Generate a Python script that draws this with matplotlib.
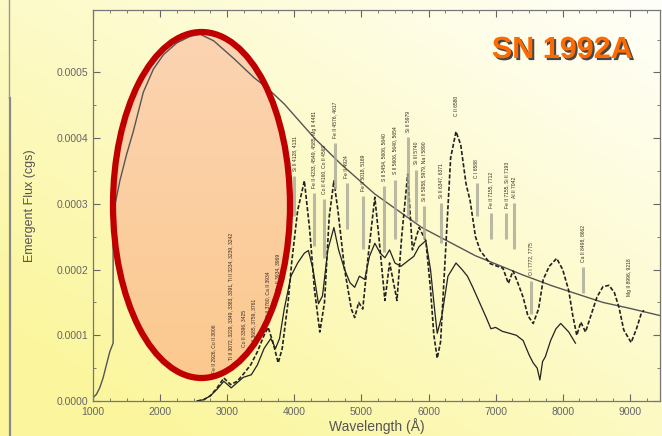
import numpy as np
import matplotlib
matplotlib.use("Agg")
import matplotlib.pyplot as plt
from matplotlib.patches import Ellipse
from matplotlib.ticker import MultipleLocator
import matplotlib.patheffects as pe

plt.rcParams['font.family'] = ['Liberation Sans', 'DejaVu Sans']

# curva suave (corpo negro)
bb_wave = [1000, 1050, 1100, 1150, 1200, 1250, 1300, 1300, 1400, 1500, 1600, 1750, 1900,
           2050, 2250, 2450, 2600, 2800, 3100, 3400, 3600, 3850, 4300, 4700, 5200, 5900,
           6700, 7400, 7850, 8600, 9000, 9450]
bb_flux = [0.000005, 0.000010, 0.000020, 0.000035, 0.000055, 0.000075, 0.000088, 0.000285,
           0.000335, 0.000375, 0.000410, 0.000470, 0.000505, 0.000527, 0.000545, 0.000555,
           0.000558, 0.000548, 0.000521, 0.000492, 0.000476, 0.000452, 0.000400, 0.000360,
           0.000315, 0.000264, 0.000221, 0.000192, 0.000175, 0.000150, 0.000141, 0.000130]

# espectro tracejado
a_wave = [2550, 2650, 2750, 2850, 2950, 3050, 3150, 3250, 3350, 3450, 3550, 3610, 3680, 3760,
          3820, 3910, 3960, 4050, 4150, 4230, 4300, 4380, 4450, 4520, 4590, 4650, 4750, 4850,
          4900, 4960, 5020, 5100, 5200, 5260, 5350, 5420, 5460, 5530, 5600, 5690, 5760, 5860,
          5960, 6030, 6080, 6130, 6180, 6250, 6330, 6410, 6480, 6560, 6620, 6700, 6770, 6920,
          7110, 7190, 7260, 7330, 7410, 7480, 7560, 7640, 7710, 7800, 7910, 8000, 8090, 8150,
          8210, 8270, 8340, 8420, 8510, 8600, 8690, 8770, 8840, 8910, 9020, 9100, 9170, 9210]
a_flux = [0.0, 0.000002, 0.000008, 0.000020, 0.000035, 0.000025, 0.000030, 0.000042, 0.000055,
          0.000075, 0.000100, 0.000112, 0.000090, 0.000058, 0.000080, 0.000153, 0.000210,
          0.000290, 0.000335, 0.000260, 0.000170, 0.000105, 0.000150, 0.000280, 0.000335,
          0.000290, 0.000200, 0.000140, 0.000127, 0.000150, 0.000140, 0.000220, 0.000310,
          0.000250, 0.000153, 0.000210, 0.000190, 0.000153, 0.000250, 0.000345, 0.000230,
          0.000264, 0.000244, 0.000170, 0.000100, 0.000065, 0.000090, 0.000220, 0.000370,
          0.000410, 0.000390, 0.000330, 0.000305, 0.000250, 0.000229, 0.000209, 0.000202,
          0.000179, 0.000198, 0.000180, 0.000158, 0.000130, 0.000118, 0.000140, 0.000185,
          0.000205, 0.000217, 0.000200, 0.000168, 0.000130, 0.000100, 0.000120, 0.000105,
          0.000130, 0.000158, 0.000174, 0.000176, 0.000165, 0.000142, 0.000108, 0.000089,
          0.000110, 0.000133, 0.000138]

# espectro continuo
b_wave = [2550, 2650, 2750, 2850, 2950, 3060, 3150, 3240, 3360, 3450, 3550, 3650, 3720, 3780,
          3850, 3950, 4050, 4150, 4210, 4280, 4360, 4420, 4500, 4590, 4660, 4750, 4830, 4900,
          4970, 5050, 5120, 5200, 5280, 5350, 5420, 5500, 5590, 5690, 5780, 5860, 5960, 6030,
          6090, 6130, 6200, 6290, 6410, 6500, 6580, 6660, 6760, 6860, 6930, 7000, 7100, 7210,
          7310, 7410, 7500, 7560, 7620, 7660, 7700, 7740, 7820, 7900, 7970, 8090, 8190]
b_flux = [0.0, 0.000002, 0.000008, 0.000018, 0.000030, 0.000020, 0.000028, 0.000036, 0.000040,
          0.000055, 0.000080, 0.000095, 0.000080, 0.000095, 0.000140, 0.000190, 0.000210,
          0.000225, 0.000229, 0.000200, 0.000148, 0.000160, 0.000230, 0.000264, 0.000230,
          0.000200, 0.000180, 0.000173, 0.000190, 0.000185, 0.000220, 0.000240, 0.000225,
          0.000218, 0.000230, 0.000210, 0.000205, 0.000213, 0.000220, 0.000235, 0.000244,
          0.000200, 0.000140, 0.000103, 0.000130, 0.000190, 0.000210, 0.000200, 0.000190,
          0.000173, 0.000150, 0.000127, 0.000110, 0.000112, 0.000106, 0.000103, 0.000100,
          0.000092, 0.000070, 0.000058, 0.000050, 0.000032, 0.000060, 0.000067, 0.000092,
          0.000110, 0.000118, 0.000105, 0.000088]

# identificacao das linhas
lab_wave = [2800, 3060, 3240, 3400, 3600, 3760, 4000, 4300, 4440, 4600, 4780, 5020, 5330,
            5500, 5700, 5820, 5930, 6180, 6420, 6720, 6930, 7160, 7280, 7530, 8300, 9000]
lab_flux = [0.000042, 0.000062, 0.000082, 0.000082, 0.000127, 0.000168, 0.000350, 0.000324,
            0.000315, 0.000400, 0.000340, 0.000320, 0.000335, 0.000345, 0.000410, 0.000360,
            0.000305, 0.000309, 0.000433, 0.000340, 0.000294, 0.000294, 0.000309, 0.000191,
            0.000212, 0.000160]
lab_bar = [0.0, 0.0, 0.0, 0.0, 0.0, 0.0, 0.00006, 0.00008, 0.00009, 0.00007, 0.00007,
           0.00008, 0.00010, 0.00009, 0.00012, 0.00008, 0.00005, 0.00006, 0.0, 0.00005,
           0.00004, 0.00004, 0.00007, 0.00005, 0.00004, 0.0]
lab_text = ["Fe II 2926, Co II 3006",
            "Ti II 3072, 3229, 3349, 3383, 3391, Ti II 3234, 3239, 3242",
            "Co II 3396, 3425",
            "Ti II 3685, 3759, 3761",
            "Ti II 3760, Ca II 3934",
            "Ca II 3934, 3969",
            "Si II 4128, 4131",
            "Fe II 4233, 4549, 4585, Mg II 4481",
            "Co II 4160, Co II 4569",
            "Fe II 4576, 4617",
            "Fe II 4924",
            "Fe II 5018, 5169",
            "S II 5454, 5606, 5640",
            "S II 5606, 5640, 5654",
            "Si II 5979",
            "Si III 5740",
            "Si II 5958, 5979, Na I 5890",
            "Si II 6347, 6371",
            "C II 6580",
            "C I 6588",
            "Fe II 7155, 7712",
            "Fe II 7155, Si II 7193",
            "Al II 7042",
            "O I 7772, 7775",
            "Ca II 8498, 8662",
            "Mg II 8996, 9218"]

W, H = 662, 436
fig = plt.figure(figsize=(W / 100, H / 100), dpi=100)

# fundo em degrade
bg = fig.add_axes([0, 0, 1, 1], zorder=0)
xx, yy = np.meshgrid(np.linspace(0, 1, 200), np.linspace(0, 1, 200))
t = np.clip((1 - xx) * 0.55 + yy * 0.6, 0, 1)
c0 = np.array([1.0, 1.0, 0.98])
c1 = np.array([0.985, 0.965, 0.62])
grad = c0 + (c1 - c0) * t[..., None]
bg.imshow(grad, extent=[0, W, H, 0], aspect='auto', origin='upper')
bg.set_xlim(0, W)
bg.set_ylim(H, 0)
bg.axis('off')

# preenchimento da elipse (por baixo do grafico)
fill = Ellipse((201.5, 205), 177, 346, facecolor='none', edgecolor='none')
bg.add_patch(fill)
gy = np.linspace(0, 1, 100)[:, None, None]
top_c = np.array([0.985, 0.83, 0.70])
bot_c = np.array([0.985, 0.79, 0.56])
egrad = np.repeat(top_c + (bot_c - top_c) * gy, 2, axis=1)
im = bg.imshow(egrad, extent=[110, 293, 380, 30], aspect='auto', zorder=2)
im.set_clip_path(fill)
bg.set_xlim(0, W)
bg.set_ylim(H, 0)

ax = fig.add_axes([93 / W, 1 - 401 / H, 567 / W, 391 / H], zorder=1)
ax.patch.set_alpha(0)

ax.plot(bb_wave, bb_flux, color='#555555', lw=1.0)
ax.plot(a_wave, a_flux, color='#222222', lw=1.2, ls=(0, (2.5, 1.2)))
ax.plot(b_wave, b_flux, color='#222222', lw=0.9)

for w, f, b, s in zip(lab_wave, lab_flux, lab_bar, lab_text):
    ax.text(w, f, s, rotation=90, ha='center', va='bottom', fontsize=3.6, color='#3a2a20')
    if b > 0:
        ax.plot([w, w], [f - 0.000008, f - 0.000008 - b], color='#a8a898', lw=2.2,
                alpha=0.8, solid_capstyle='butt')

ax.set_xlim(1000, 9450)
ax.set_ylim(0, 0.000595)
ax.xaxis.set_major_locator(MultipleLocator(1000))
ax.xaxis.set_minor_locator(MultipleLocator(250))
ax.yaxis.set_major_locator(MultipleLocator(0.0001))
ax.yaxis.set_minor_locator(MultipleLocator(0.00005))
ax.yaxis.set_major_formatter(matplotlib.ticker.FormatStrFormatter('%.4f'))
ax.tick_params(which='both', direction='in', top=True, right=True, colors='#666666',
               labelcolor='#666666', labelsize=7.5)
ax.tick_params(which='major', length=5, width=0.8)
ax.tick_params(which='minor', length=2.5, width=0.6)
ax.tick_params(axis='x', pad=4)
for sp in ax.spines.values():
    sp.set_color('#777777')
    sp.set_linewidth(0.9)
ax.set_xlabel('Wavelength (Å)', fontsize=10, color='#555555', labelpad=1)
ax.set_ylabel('Emergent Flux (cgs)', fontsize=9, color='#555555', labelpad=15)

# camada de cima: contorno da elipse, titulo e borda
ov = fig.add_axes([0, 0, 1, 1], zorder=3)
ov.patch.set_alpha(0)
ov.set_xlim(0, W)
ov.set_ylim(H, 0)
ov.axis('off')

ell = Ellipse((201.5, 205), 177, 346, facecolor='none', edgecolor='#c00000', lw=4.5, zorder=5)
ov.add_patch(ell)

ov.plot([8.5, 8.5], [0, 98], color='#999999', lw=1.0)
ov.plot([9.5, 9.5], [98, H], color='#888888', lw=1.6)

ov.text(562, 50, 'SN 1992A', fontsize=22, fontweight='bold', color='#ff6a00',
        ha='center', va='center',
        path_effects=[pe.withSimplePatchShadow(offset=(1.5, -1.5), shadow_rgbFace='#333333',
                                               alpha=0.9)])

fig.savefig('out.png', dpi=100)
